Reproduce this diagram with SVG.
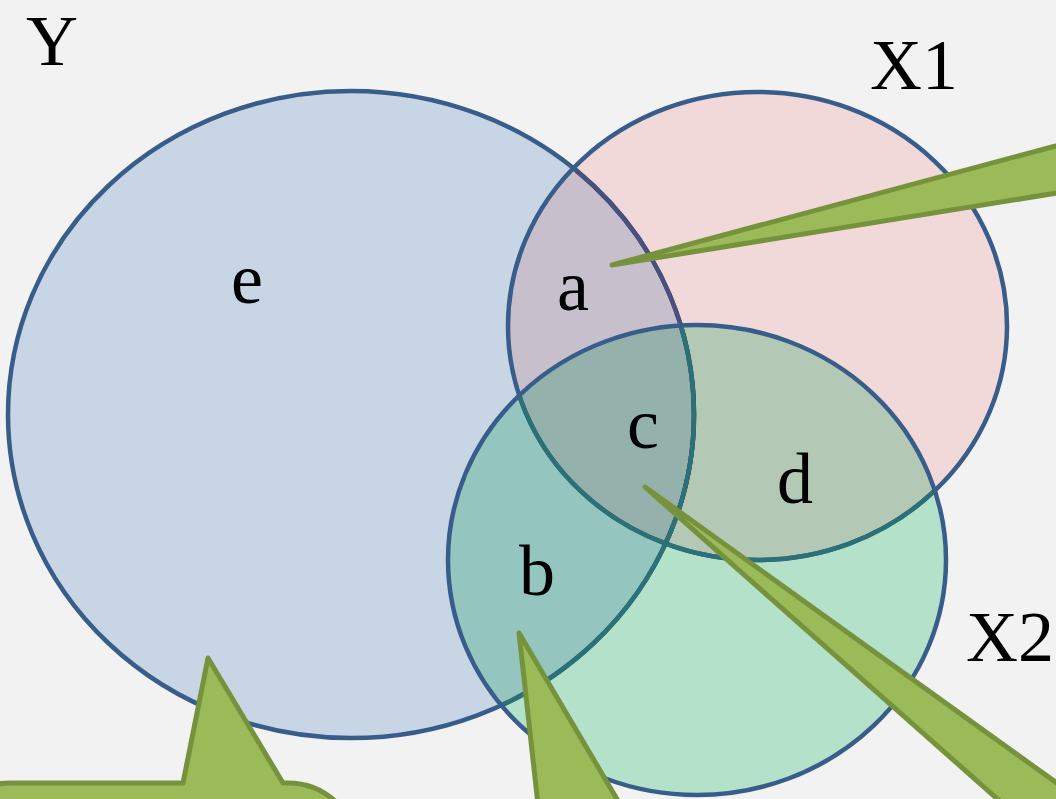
<svg xmlns="http://www.w3.org/2000/svg" width="1056" height="799" viewBox="0 0 1056 799">
  <style>
    .fill { mix-blend-mode: multiply; stroke: none; }
    .edge { fill: none; stroke: #385d8a; stroke-width: 4.5; }
    .lbl { font-family: "Liberation Serif", "Times New Roman", serif; font-size: 72px; fill: #000; text-anchor: middle; }
    .callout { fill: #9bbb59; stroke: #76923c; stroke-width: 5; stroke-linejoin: round; }
  </style>
  <defs>
    <clipPath id="clipX1"><ellipse cx="757.5" cy="326" rx="249.5" ry="234"/></clipPath>
    <clipPath id="clipX2"><ellipse cx="697" cy="560" rx="249" ry="235"/></clipPath>
  </defs>
  <rect x="0" y="0" width="1056" height="799" fill="#f2f2f2"/>

  <g id="Y">
    <ellipse class="fill" cx="351" cy="414.5" rx="343" ry="323.5" fill="#d3e1f2"/>
    <ellipse class="edge" cx="351" cy="414.5" rx="343" ry="323.5"/>
    <text class="lbl" x="52" y="65">Y</text>
    <text class="lbl" x="247" y="303">e</text>
  </g>

  <g id="X1">
    <ellipse class="fill" cx="757.5" cy="326" rx="249.5" ry="234" fill="#ffe5e5"/>
    <ellipse class="edge" cx="351" cy="414.5" rx="343" ry="323.5" clip-path="url(#clipX1)" style="stroke:#4a507d"/>
    <ellipse class="edge" cx="757.5" cy="326" rx="249.5" ry="234"/>
    <text class="lbl" x="914" y="89">X1</text>
    <text class="lbl" x="573" y="310">a</text>
  </g>

  <g id="X2">
    <ellipse class="fill" cx="697" cy="560" rx="249" ry="235" fill="#bdedd5"/>
    <g clip-path="url(#clipX2)">
      <ellipse class="edge" cx="351" cy="414.5" rx="343" ry="323.5" style="stroke:#2c7078"/>
      <ellipse class="edge" cx="757.5" cy="326" rx="249.5" ry="234" style="stroke:#2c7078"/>
    </g>
    <ellipse class="edge" cx="697" cy="560" rx="249" ry="235"/>
    <text class="lbl" x="1010" y="661">X2</text>
    <text class="lbl" x="643" y="448">c</text>
    <text class="lbl" x="795" y="503">d</text>
    <text class="lbl" x="537" y="595">b</text>
  </g>

  <g id="connectors">
    <polygon id="callout-a" class="callout" points="612,265 1100,134 1100,186"/>
    <polygon id="callout-c" class="callout" points="645,487 1150,850 1055,850"/>
    <polygon id="callout-b" class="callout" points="519,633 647,850 543,850"/>
    <path id="callout-e" class="callout" d="M -60,853 A 70 70 0 0 1 10,783 L 183,783 L 208,658 L 283,783 L 288,783 A 70 70 0 0 1 358,853 L 358,900 L -60,900 Z"/>
  </g>
</svg>
